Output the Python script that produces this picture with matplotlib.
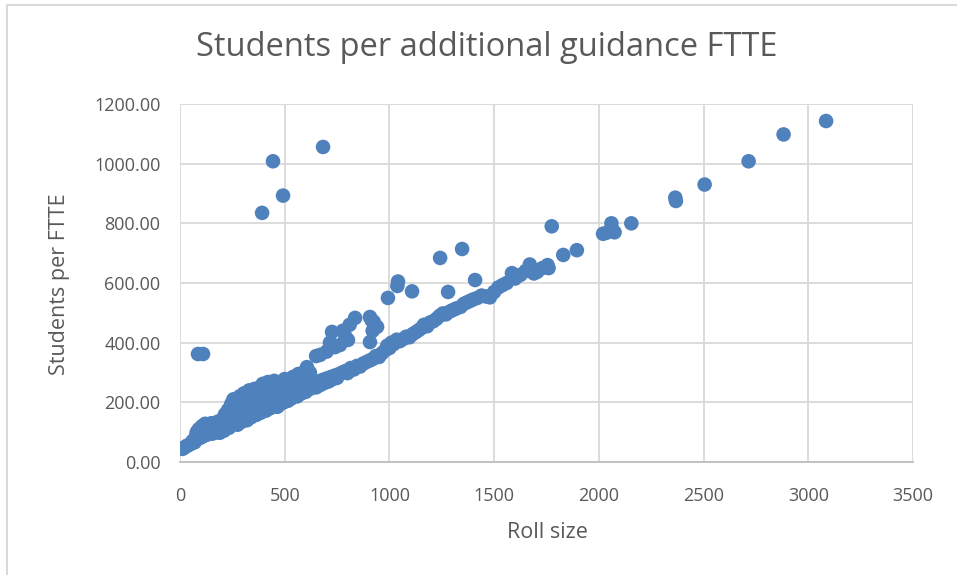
import matplotlib
matplotlib.use("Agg")
import matplotlib.pyplot as plt
from matplotlib.lines import Line2D

title = "Students per additional guidance FTTE"
x_label = "Roll size"
y_label = "Students per FTTE"

# Main cluster (roll size, students per FTTE)
roll_main = [12, 20, 28, 35, 45, 55, 60, 70, 75, 80, 85, 90, 95, 100, 105, 110, 115, 120, 125, 130,
             140, 145, 150, 155, 160, 170, 175, 180, 185, 190, 200, 205, 210, 215, 220, 230, 235, 240,
             245, 250, 255, 260, 265, 270, 275, 280, 285, 290, 295, 300, 305, 310, 315, 320, 330, 335,
             340, 345, 350, 355, 360, 365, 370, 375, 380, 385, 390, 395, 400, 405, 410, 415, 420, 425,
             430, 435, 440, 445, 450, 455, 460, 465, 470, 475, 480, 485, 490, 495, 500, 505, 510, 515,
             520, 525, 530, 540, 545, 550, 555, 560, 565, 570, 575, 580, 590, 595, 600, 605, 610, 620,
             630, 640, 650, 660, 670, 680, 690, 700, 710, 720, 730, 740, 750, 760, 775, 790, 800, 815,
             830, 845, 860, 875, 890, 905, 920, 935, 950, 965, 980, 990, 1000, 1010, 1020, 1035, 1050,
             1065, 1080, 1095, 1110, 1125, 1140, 1155, 1165, 1180, 1195, 1210, 1225, 1240, 1255, 1270,
             1290, 1305, 1320, 1340, 1355, 1370, 1385, 1400, 1420, 1440, 1460, 1480, 1500, 1520, 1540,
             1560, 1585, 1600, 1625, 1650, 1670, 1690, 1705, 1730, 1755, 1760, 1775, 1830, 1895, 2020,
             2035, 2060, 2065, 2075, 2155, 2365, 2368, 2505, 2715, 2882, 3085]
spf_main = [44, 48, 52, 55, 58, 62, 70, 66, 85, 100, 78, 110, 92, 82, 120, 98, 88, 128, 108, 92,
            118, 100, 130, 95, 112, 125, 100, 135, 108, 98, 120, 145, 105, 160, 130, 175, 115, 150,
            195, 128, 210, 140, 185, 165, 125, 200, 220, 150, 135, 180, 230, 160, 205, 140, 240, 190,
            150, 220, 170, 245, 200, 158, 230, 180, 250, 165, 210, 262, 190, 240, 172, 220, 268, 200,
            180, 255, 230, 190, 272, 210, 245, 185, 265, 225, 195, 260, 240, 200, 278, 215, 250, 205,
            270, 230, 212, 285, 250, 225, 270, 220, 295, 240, 260, 230, 300, 250, 235, 275, 305, 245,
            255, 262, 250, 270, 258, 275, 265, 280, 270, 285, 278, 290, 282, 295, 300, 305, 298, 315,
            310, 322, 320, 330, 335, 340, 345, 355, 352, 365, 375, 390, 382, 400, 395, 410, 405,
            412, 420, 418, 428, 435, 442, 450, 460, 455, 468, 472, 480, 490, 498, 495,
            505, 510, 515, 520, 530, 535, 540, 545, 550, 558, 555, 552, 570, 585, 593,
            600, 633, 615, 627, 640, 662, 632, 637, 650, 660, 650, 790, 694, 710, 765,
            768, 800, 778, 770, 800, 886, 875, 930, 1008, 1098, 1143]

# Upper band of schools
roll_upper = [606, 620, 650, 669, 700, 716, 726, 740, 764, 778, 790, 802, 810, 836, 907, 915, 941, 907, 920, 925]
spf_upper = [318, 300, 355, 359, 370, 400, 436, 385, 392, 440, 420, 409, 460, 483, 486, 475, 453, 402, 440, 470]

# Outliers
roll_out = [86, 110, 392, 444, 492, 683, 993, 1041, 1038, 1108, 1242, 1280, 1347, 1409]
spf_out = [362, 362, 835, 1008, 893, 1056, 550, 605, 590, 572, 684, 570, 714, 610]

rolls = roll_main + roll_upper + roll_out
spfs = spf_main + spf_upper + spf_out

x_ticks = [0, 500, 1000, 1500, 2000, 2500, 3000, 3500]
y_ticks = [0, 200, 400, 600, 800, 1000, 1200]

text_col = "#595959"
grid_col = "#d9d9d9"
dot_col = "#4f81bd"

plt.rcParams['font.family'] = ['Open Sans', 'DejaVu Sans']

fig = plt.figure(figsize=(9.57, 5.75), dpi=100)
# chart-area border (left and top edges visible)
fig.add_artist(Line2D([6.5 / 957, 6.5 / 957], [0, 1 - 4.5 / 575], transform=fig.transFigure,
                      color="#d9d9d9", linewidth=1.5))
fig.add_artist(Line2D([6.5 / 957, 1], [1 - 4.5 / 575, 1 - 4.5 / 575], transform=fig.transFigure,
                      color="#d9d9d9", linewidth=1.5))

ax = fig.add_axes([180 / 957, (575 - 462) / 575, (913 - 180) / 957, (462 - 104) / 575])

ax.scatter(rolls, spfs, s=110, color=dot_col, edgecolors="none", zorder=3)

ax.set_xlim(0, 3500)
ax.set_ylim(0, 1200)
ax.set_xticks(x_ticks)
ax.set_yticks(y_ticks)
ax.set_xticklabels([str(v) for v in x_ticks])
ax.set_yticklabels([f"{v:.2f}" for v in y_ticks])
ax.grid(True, color=grid_col, linewidth=1.3, zorder=0)
ax.set_axisbelow(True)
for side in ["top", "right", "left"]:
    ax.spines[side].set_visible(False)
ax.spines["bottom"].set_color("#bfbfbf")
ax.spines["bottom"].set_linewidth(1.3)
ax.tick_params(length=0, labelsize=13, colors=text_col)
ax.tick_params(axis="x", pad=18)
ax.tick_params(axis="y", pad=14)

ax.set_xlabel(x_label, fontsize=15.5, color=text_col)
ax.set_ylabel(y_label, fontsize=15.5, color=text_col)
ax.xaxis.label.set_va("center")
ax.yaxis.label.set_va("center")
ax.xaxis.set_label_coords((547 - 180) / 733, (462 - 533) / 358)
ax.yaxis.set_label_coords((60 - 180) / 733, (462 - 284) / 358)

fig.text(0.5 * (198 + 776) / 957, 1 - 47 / 575, title, fontsize=23.5, color=text_col,
         ha="center", va="center")

fig.savefig("out.png", dpi=100)
